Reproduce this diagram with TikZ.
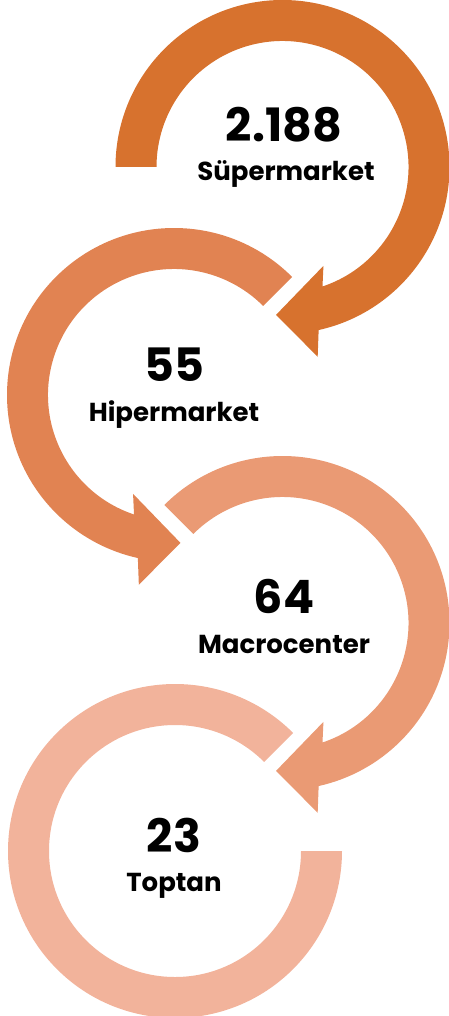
\documentclass[tikz,border=0pt]{standalone}
\usepackage{fontspec}
\newfontfamily\gothic{Poppins}
\definecolor{ringa}{RGB}{215,114,46}
\definecolor{ringb}{RGB}{225,131,82}
\definecolor{ringc}{RGB}{234,154,116}
\definecolor{ringd}{RGB}{242,179,155}
\begin{document}
\begin{tikzpicture}[x=1pt,y=1pt,
		count/.style={font=\gothic\bfseries\fontsize{46}{46}\selectfont, anchor=base},
		shop/.style={font=\gothic\bfseries\fontsize{26}{26}\selectfont, anchor=base}]
	\tikzstyle{every node}+=[inner sep=0pt]
	\useasboundingbox (0,0) rectangle (449,-1016);
	% Supermarket ring
	\begin{scope}[shift={(282.5,-167)}]
		\fill [ringa] (180:167) arc (180:-77.5:167) -- (-79.5:193) -- (-92.5:148) -- (-67.5:107) -- (-71.5:126) arc (-71.5:180:126) -- cycle;
	\end{scope}
	% Hipermarket ring (mirrored)
	\begin{scope}[shift={(174,-395)},xscale=-1]
		\fill [ringb] (135:167) arc (135:-77.5:167) -- (-79.5:193) -- (-92.5:148) -- (-67.5:107) -- (-71.5:126) arc (-71.5:135:126) -- cycle;
	\end{scope}
	% Macrocenter ring
	\begin{scope}[shift={(282.5,-623)}]
		\fill [ringc] (135:167) arc (135:-77.5:167) -- (-79.5:193) -- (-92.5:148) -- (-67.5:107) -- (-71.5:126) arc (-71.5:135:126) -- cycle;
	\end{scope}
	% Toptan ring, no head
	\begin{scope}[shift={(175,-851)}]
		\fill [ringd] (45:167) arc (45:360:167) -- (0:126) arc (360:45:126) -- cycle;
	\end{scope}
	% texts
	\node [count] (n1) at (284,-141.5) {2.188};
	\node [shop] (s1) at (286,-181) {Süpermarket};
	\node [count] (n2) at (174,-381) {55};
	\node [shop] (s2) at (174,-421) {Hipermarket};
	\node [count] (n3) at (284,-613.5) {64};
	\node [shop] (s3) at (284,-653) {Macrocenter};
	\node [count] (n4) at (174,-852) {23};
	\node [shop] (s4) at (174,-891) {Toptan};
\end{tikzpicture}
\end{document}
